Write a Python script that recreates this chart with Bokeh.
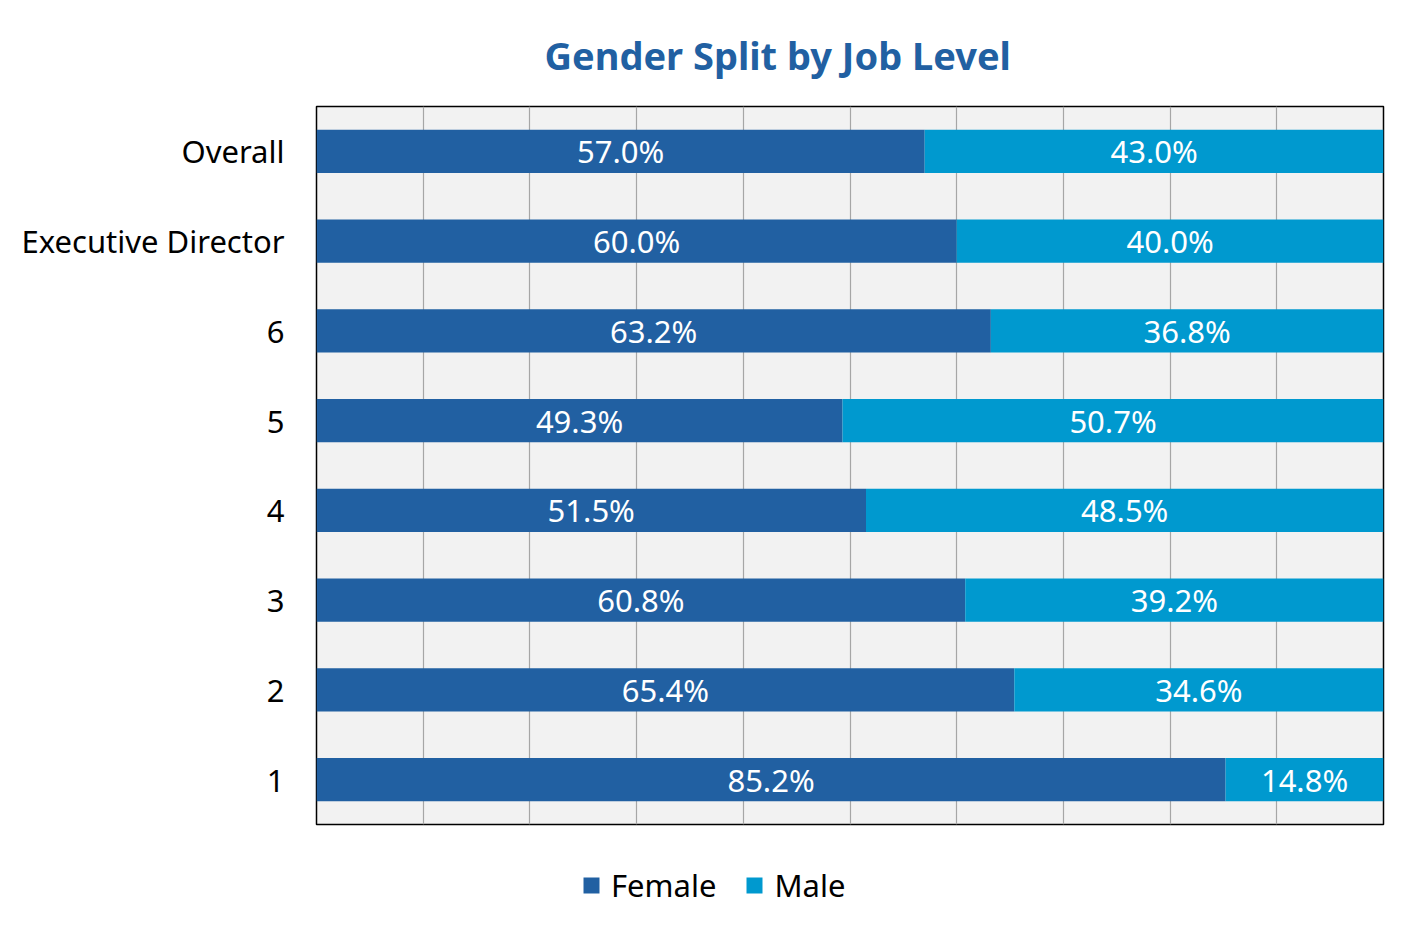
from bokeh.plotting import figure
from bokeh.layouts import column
from bokeh.models import ColumnDataSource, FactorRange, Range1d, Legend, LegendItem, SingleIntervalTicker
from bokeh.core.properties import value
from bokeh.embed import file_html
from bokeh.resources import INLINE

levels = ["Overall", "Executive Director", "6", "5", "4", "3", "2", "1"]
female = [57.0, 60.0, 63.2, 49.3, 51.5, 60.8, 65.4, 85.2]
male = [43.0, 40.0, 36.8, 50.7, 48.5, 39.2, 34.6, 14.8]
series = ["Female", "Male"]
colors = ["#2160A2", "#0099CF"]
title_text = "Gender Split by Job Level"

FONT = "Noto Sans"

src = ColumnDataSource(dict(
    level=levels,
    Female=female,
    Male=male,
    f_mid=[f / 2 for f in female],
    m_mid=[f + m / 2 for f, m in zip(female, male)],
    f_lab=[f"{f:.1f}%" for f in female],
    m_lab=[f"{m:.1f}%" for m in male],
))

p = figure(width=1398, height=832, output_backend="svg", toolbar_location=None,
           y_range=FactorRange(factors=levels[::-1], range_padding=0),
           x_range=Range1d(0, 100),
           min_border_left=316, min_border_right=15, min_border_top=106, min_border_bottom=8)

p.background_fill_color = "#F2F2F2"
p.border_fill_color = "white"
p.outline_line_color = "black"
p.outline_line_width = 1.5

renderers = p.hbar_stack(series, y="level", height=0.48, color=colors, source=src, line_color=None)

p.text(x="f_mid", y="level", text="f_lab", source=src, text_color="white",
       text_align="center", text_baseline="middle", text_font=value(FONT), text_font_size="31px")
p.text(x="m_mid", y="level", text="m_lab", source=src, text_color="white",
       text_align="center", text_baseline="middle", text_font=value(FONT), text_font_size="31px")

p.xaxis.visible = False
p.xaxis.ticker = SingleIntervalTicker(interval=10)
p.xgrid.ticker = SingleIntervalTicker(interval=10)
p.xgrid.grid_line_color = "#A6A6A6"
p.xgrid.grid_line_width = 1.2
p.ygrid.grid_line_color = None

p.yaxis.axis_line_color = None
p.yaxis.major_tick_line_color = None
p.yaxis.minor_tick_line_color = None
p.yaxis.major_label_text_font = FONT
p.yaxis.major_label_text_font_size = "31px"
p.yaxis.major_label_text_color = "black"
p.yaxis.major_label_standoff = 26

p.title.text = title_text
p.title.align = "left"
p.title.offset = 228
p.title.standoff = 52
p.title.text_font = FONT
p.title.text_font_size = "38px"
p.title.text_font_style = "bold"
p.title.text_color = "#2160A2"

# legend strip below the chart (its bars are hidden; they only feed the legend)
pl = figure(width=1398, height=84, output_backend="svg", toolbar_location=None,
            x_range=Range1d(0, 100), y_range=FactorRange(factors=levels[::-1]),
            min_border_left=0, min_border_right=0, min_border_top=0, min_border_bottom=0)
pl.axis.visible = False
pl.grid.visible = False
pl.outline_line_color = None
pl.background_fill_color = "white"
leg_renderers = pl.hbar_stack(series, y="level", height=0.48, color=colors, source=src, line_color=None)
for r in leg_renderers:
    r.visible = False

legend = Legend(items=[LegendItem(label=s, renderers=[r]) for s, r in zip(series, leg_renderers)],
                orientation="horizontal", location=(265, 10), click_policy="none",
                inactive_fill_alpha=0,
                label_text_font=FONT, label_text_font_size="31px", label_text_color="black",
                glyph_width=20, glyph_height=20, label_standoff=10, spacing=28,
                border_line_color=None, background_fill_alpha=0, margin=0, padding=0)
pl.add_layout(legend, "center")

layout = column(p, pl, spacing=0)
open("out.html", "w").write(file_html(layout, INLINE))
